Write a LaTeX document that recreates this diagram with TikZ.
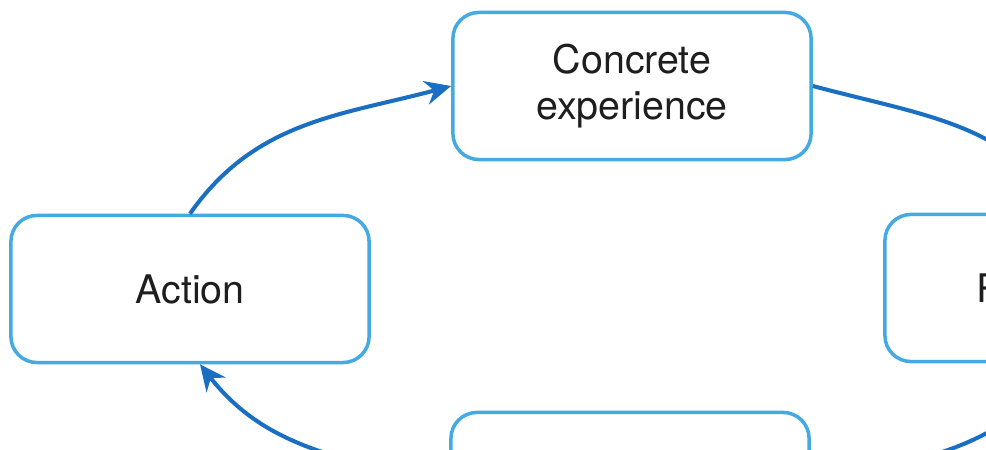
\documentclass[tikz,border=0pt]{standalone}
\usepackage{fontspec}
\setmainfont{TeX Gyre Heros}
\usetikzlibrary{arrows.meta,positioning}
\usepackage{xcolor}
\definecolor{boxblue}{HTML}{45AAE2}
\definecolor{arrowblue}{HTML}{1A6FC2}
\definecolor{textgray}{HTML}{1E1E1E}

\begin{document}
\begin{tikzpicture}[x=0.01cm, y=-0.01cm, >={Stealth[length=2.6mm,width=2.4mm]},
    font=\fontsize{11.2pt}{12.9pt}\selectfont,
    stage/.style={draw=boxblue, line width=1pt, rounded corners=0.26cm,
      fill=white, text=textgray, align=center,
      minimum width=3.58cm, minimum height=1.47cm, inner sep=0pt},
    cyc/.style={draw=arrowblue, line width=1.15pt, ->}]
  %% Frame: 986 x 449 px, y downwards
  \useasboundingbox (0,0) rectangle (986,449);
  \clip (0,0) rectangle (986,449);

  %% Stages of the cycle
  \node[stage] (concrete)   at (632,86)   {Concrete\\experience};
  \node[stage] (action)     at (190,289)  {Action};
  \node[stage] (reflection) at (1064,288) {Reflection};
  \node[stage] (lower)      at (630,486)  {};

  %% Cycle arrows
  \draw[cyc] (action.north) to[out=55,in=195] (concrete.west);
  \draw[cyc] (concrete.east) to[out=-15,in=125] (reflection.north);
  \draw[cyc] (reflection.south) to[out=-125,in=15] (lower.east);
  \draw[cyc] (lower.west) to[out=165,in=-52] ([xshift=0.1cm]action.south);
\end{tikzpicture}
\end{document}
